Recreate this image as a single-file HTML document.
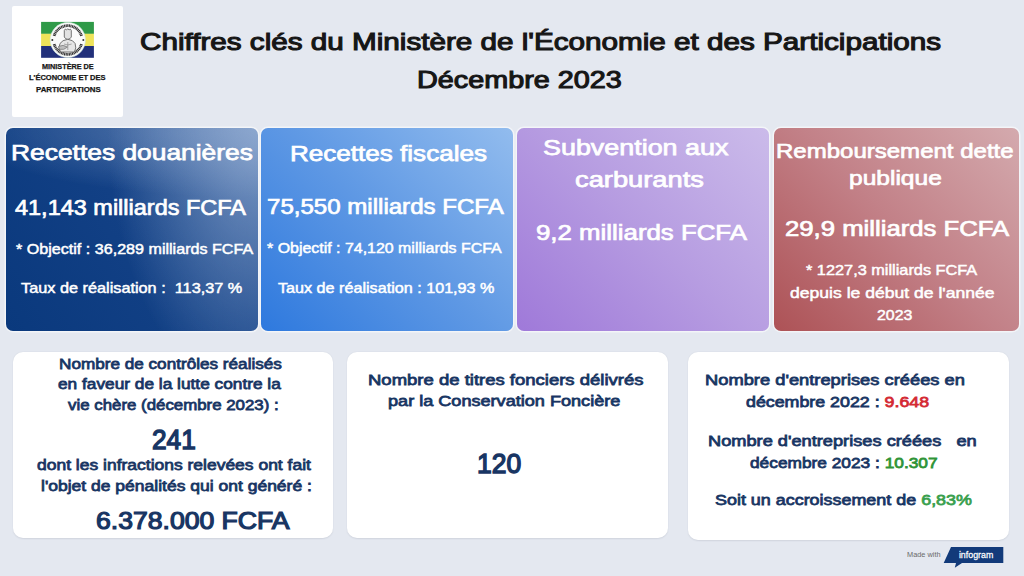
<!DOCTYPE html>
<html><head><meta charset="utf-8">
<style>
*{margin:0;padding:0;box-sizing:border-box}
html,body{width:1024px;height:576px;overflow:hidden;background:#e4e8f0;font-family:"Liberation Sans",sans-serif}
.logo{position:absolute;left:12px;top:6px;width:111px;height:111px;background:#fff;border-radius:2px}
.card{position:absolute;top:127.5px;height:203px;border-radius:7px;overflow:hidden;box-shadow:0 0 0 1.5px rgba(255,255,255,.55)}
.c1{left:5.5px;width:252.5px;background:radial-gradient(ellipse 150px 270px at 100% 0%, rgba(150,175,212,.8) 0%, rgba(150,175,212,0) 100%),radial-gradient(ellipse 300px 70px at 100% 0%, rgba(150,175,212,.6) 0%, rgba(150,175,212,0) 100%),linear-gradient(60deg,#0a397d 0%,#124085 50%,#1d4a8f 100%)}
.c2{left:261px;width:252px;background:linear-gradient(45deg,#2e79de 0%,#5e98e4 50%,#92bcee 100%)}
.c3{left:516.5px;width:252px;background:linear-gradient(45deg,#9f79d9 0%,#b69ce1 50%,#cbbbea 100%)}
.c4{left:773.5px;width:245px;background:linear-gradient(45deg,#ad5256 0%,#c28087 50%,#d4aaae 100%)}
.wc{position:absolute;top:351.6px;height:186.6px;background:#fff;border-radius:10px;box-shadow:0 0.5px 1.5px rgba(40,50,70,.10)}
.w1{left:12.5px;width:320px}
.w2{left:346.5px;width:321px}
.w3{left:688px;width:320.8px;top:351.5px;height:188px}
.tx{position:absolute;white-space:nowrap;font-weight:normal;transform-origin:0 0}
.lg{font-weight:bold;-webkit-text-stroke-width:0.25px}
</style></head><body>
<div class="logo">
  <svg width="111" height="111" style="position:absolute;left:0;top:0">
    <rect x="29.1" y="15.9" width="52.8" height="12" fill="#2f9a48"/>
    <rect x="29.1" y="27.8" width="52.8" height="12.2" fill="#eee35a"/>
    <rect x="29.1" y="40" width="52.8" height="11.8" fill="#22307a"/>
    <circle cx="55.8" cy="34.0" r="17.6" fill="#fafafa" stroke="#cfe8dc" stroke-width="0.6"/>
    <path d="M42.12 29.82 A14.3 14.3 0 0 1 69.48 29.82" fill="none" stroke="#2e2e2e" stroke-width="2.8" stroke-dasharray="1.1 0.5"/>
    <path d="M42.12 38.18 A14.3 14.3 0 0 0 69.48 38.18" fill="none" stroke="#2e2e2e" stroke-width="2.8" stroke-dasharray="1.1 0.5"/>
    <circle cx="40.3" cy="34" r="1" fill="#333"/>
    <circle cx="71.3" cy="34" r="1" fill="#333"/>
    <path d="M52.3 24.5 l1 -1.5 l1.2 1 l1.3 -1.3 l1.3 1.3 l1.2 -1 l1 1.5 v6.5 q-1 2.2 -3.5 2.4 q-2.5 -0.2 -3.5 -2.4 z" fill="#e2e2e2" stroke="#555" stroke-width="0.8"/>
    <path d="M48.5 46 q-2.8 -4.5 -0.5 -8.5 q2.2 -3.5 7.8 -4.2 q5.6 0.7 7.3 4.2 q1.8 4.5 -0.8 8.5 z" fill="#e6e6e6" stroke="#555" stroke-width="0.8"/>
    <path d="M46.5 40.5 q4.5 -2.5 9 0.5 q-3.5 3.5 -8 2.3 z" fill="#bdbdbd" stroke="#666" stroke-width="0.6"/>
    <path d="M55.8 36 v8 M52 38 q3.8 2 7.6 0" fill="none" stroke="#777" stroke-width="0.6"/>
  </svg>
</div>
<div class="card c1"></div>
<div class="card c2"></div>
<div class="card c3"></div>
<div class="card c4"></div>
<div class="wc w1"></div>
<div class="wc w2"></div>
<div class="wc w3"></div>
<div id="L_T1" class="tx" style="left:139.84px;top:30.09px;font-size:24.00px;line-height:24.00px;color:#161616;-webkit-text-stroke-width:1.08px;transform:scaleX(1.2353)">Chiffres clés du Ministère de l'Économie et des Participations</div>
<div id="L_T2" class="tx" style="left:417.34px;top:68.27px;font-size:24.00px;line-height:24.00px;color:#161616;-webkit-text-stroke-width:1.08px;transform:scaleX(1.1989)">Décembre 2023</div>
<div id="L_c1a" class="tx" style="left:11.23px;top:141.77px;font-size:22.60px;line-height:22.60px;color:#ffffff;-webkit-text-stroke-width:0.75px;transform:scaleX(1.1674)">Recettes douanières</div>
<div id="L_c1b" class="tx" style="left:14.51px;top:196.68px;font-size:21.20px;line-height:21.20px;color:#ffffff;-webkit-text-stroke-width:0.70px;transform:scaleX(1.1081)">41,143 milliards FCFA</div>
<div id="L_c1c" class="tx" style="left:16.02px;top:241.97px;font-size:14.80px;line-height:14.80px;color:#ffffff;-webkit-text-stroke-width:0.49px;transform:scaleX(1.0882)">* Objectif : 36,289 milliards FCFA</div>
<div id="L_c1d" class="tx" style="left:21.05px;top:281.15px;font-size:14.80px;line-height:14.80px;color:#ffffff;-webkit-text-stroke-width:0.49px;transform:scaleX(1.0996)">Taux de réalisation :&nbsp; 113,37 %</div>
<div id="L_c2a" class="tx" style="left:289.93px;top:143.29px;font-size:22.60px;line-height:22.60px;color:#ffffff;-webkit-text-stroke-width:0.75px;transform:scaleX(1.1533)">Recettes fiscales</div>
<div id="L_c2b" class="tx" style="left:266.92px;top:196.07px;font-size:21.20px;line-height:21.20px;color:#ffffff;-webkit-text-stroke-width:0.70px;transform:scaleX(1.1359)">75,550 milliards FCFA</div>
<div id="L_c2c" class="tx" style="left:267.02px;top:241.27px;font-size:14.80px;line-height:14.80px;color:#ffffff;-webkit-text-stroke-width:0.49px;transform:scaleX(1.0769)">* Objectif : 74,120 milliards FCFA</div>
<div id="L_c2d" class="tx" style="left:277.52px;top:281.31px;font-size:14.80px;line-height:14.80px;color:#ffffff;-webkit-text-stroke-width:0.49px;transform:scaleX(1.0917)">Taux de réalisation : 101,93 %</div>
<div id="L_c3a" class="tx" style="left:542.81px;top:136.82px;font-size:22.60px;line-height:22.60px;color:#ffffff;-webkit-text-stroke-width:0.75px;transform:scaleX(1.1903)">Subvention aux</div>
<div id="L_c3b" class="tx" style="left:574.88px;top:168.88px;font-size:22.60px;line-height:22.60px;color:#ffffff;-webkit-text-stroke-width:0.75px;transform:scaleX(1.2076)">carburants</div>
<div id="L_c3c" class="tx" style="left:536.39px;top:222.09px;font-size:21.20px;line-height:21.20px;color:#ffffff;-webkit-text-stroke-width:0.70px;transform:scaleX(1.2187)">9,2 milliards FCFA</div>
<div id="L_c4a" class="tx" style="left:775.60px;top:140.79px;font-size:20.20px;line-height:20.20px;color:#ffffff;-webkit-text-stroke-width:0.67px;transform:scaleX(1.1895)">Remboursement dette</div>
<div id="L_c4b" class="tx" style="left:848.81px;top:167.65px;font-size:20.20px;line-height:20.20px;color:#ffffff;-webkit-text-stroke-width:0.67px;transform:scaleX(1.2155)">publique</div>
<div id="L_c4c" class="tx" style="left:784.53px;top:218.31px;font-size:21.20px;line-height:21.20px;color:#ffffff;-webkit-text-stroke-width:0.70px;transform:scaleX(1.2130)">29,9 milliards FCFA</div>
<div id="L_c4d" class="tx" style="left:806.48px;top:262.03px;font-size:15.00px;line-height:15.00px;color:#ffffff;-webkit-text-stroke-width:0.49px;transform:scaleX(1.0867)">* 1227,3 milliards FCFA</div>
<div id="L_c4e" class="tx" style="left:790.00px;top:284.55px;font-size:15.00px;line-height:15.00px;color:#ffffff;-webkit-text-stroke-width:0.49px;transform:scaleX(1.1710)">depuis le début de l'année</div>
<div id="L_c4f" class="tx" style="left:877.02px;top:306.81px;font-size:15.00px;line-height:15.00px;color:#ffffff;-webkit-text-stroke-width:0.49px;transform:scaleX(1.0597)">2023</div>
<div id="L_wA1" class="tx" style="left:59.38px;top:355.96px;font-size:15.20px;line-height:15.20px;color:#183563;-webkit-text-stroke-width:0.76px;transform:scaleX(1.1286)">Nombre de contrôles réalisés</div>
<div id="L_wA2" class="tx" style="left:58.25px;top:376.26px;font-size:15.20px;line-height:15.20px;color:#183563;-webkit-text-stroke-width:0.76px;transform:scaleX(1.1375)">en faveur de la lutte contre la</div>
<div id="L_wA3" class="tx" style="left:68.13px;top:397.44px;font-size:15.20px;line-height:15.20px;color:#183563;-webkit-text-stroke-width:0.76px;transform:scaleX(1.1092)">vie chère (décembre 2023) :</div>
<div id="L_wA4" class="tx" style="left:151.51px;top:424.95px;font-size:28.20px;line-height:28.20px;color:#183563;-webkit-text-stroke-width:1.41px;transform:scaleX(0.9315)">241</div>
<div id="L_wA5" class="tx" style="left:36.92px;top:457.40px;font-size:15.20px;line-height:15.20px;color:#183563;-webkit-text-stroke-width:0.76px;transform:scaleX(1.1504)">dont les infractions relevées ont fait</div>
<div id="L_wA6" class="tx" style="left:41.14px;top:478.00px;font-size:15.20px;line-height:15.20px;color:#183563;-webkit-text-stroke-width:0.76px;transform:scaleX(1.1522)">l'objet de pénalités qui ont généré :</div>
<div id="L_wA7" class="tx" style="left:96.06px;top:509.08px;font-size:23.90px;line-height:23.90px;color:#183563;-webkit-text-stroke-width:1.20px;transform:scaleX(1.1122)">6.378.000 FCFA</div>
<div id="L_wB1" class="tx" style="left:367.91px;top:371.99px;font-size:15.40px;line-height:15.40px;color:#183563;-webkit-text-stroke-width:0.77px;transform:scaleX(1.2018)">Nombre de titres fonciers délivrés</div>
<div id="L_wB2" class="tx" style="left:388.19px;top:393.49px;font-size:15.40px;line-height:15.40px;color:#183563;-webkit-text-stroke-width:0.77px;transform:scaleX(1.1756)">par la Conservation Foncière</div>
<div id="L_wB3" class="tx" style="left:477.06px;top:449.17px;font-size:28.20px;line-height:28.20px;color:#183563;-webkit-text-stroke-width:1.41px;transform:scaleX(0.9396)">120</div>
<div id="L_wC1" class="tx" style="left:705.04px;top:372.45px;font-size:15.40px;line-height:15.40px;color:#183563;-webkit-text-stroke-width:0.77px;transform:scaleX(1.1896)">Nombre d'entreprises créées en</div>
<div id="L_wC2" class="tx" style="left:745.93px;top:394.01px;font-size:15.40px;line-height:15.40px;color:#183563;-webkit-text-stroke-width:0.77px;transform:scaleX(1.1569)">décembre 2022 : <span style="color:#d42a33">9.648</span></div>
<div id="L_wC3" class="tx" style="left:708.04px;top:432.95px;font-size:15.40px;line-height:15.40px;color:#183563;-webkit-text-stroke-width:0.77px;transform:scaleX(1.1836)">Nombre d'entreprises créées &nbsp; en</div>
<div id="L_wC4" class="tx" style="left:750.29px;top:454.55px;font-size:15.40px;line-height:15.40px;color:#183563;-webkit-text-stroke-width:0.77px;transform:scaleX(1.1241)">décembre 2023 : <span style="color:#2f9437">10.307</span></div>
<div id="L_wC5" class="tx" style="left:715.16px;top:491.79px;font-size:15.40px;line-height:15.40px;color:#183563;-webkit-text-stroke-width:0.77px;transform:scaleX(1.1642)">Soit un accroissement de <span style="color:#3aa04e">6,83%</span></div>
<div id="L_lg1" class="tx lg" style="left:41.50px;top:62.85px;font-size:7.30px;line-height:7.30px;color:#161616;transform:scaleX(0.9967)">MINISTÈRE DE</div>
<div id="L_lg2" class="tx lg" style="left:28.99px;top:74.09px;font-size:7.30px;line-height:7.30px;color:#161616;transform:scaleX(1.0301)">L'ÉCONOMIE ET DES</div>
<div id="L_lg3" class="tx lg" style="left:35.53px;top:85.85px;font-size:7.30px;line-height:7.30px;color:#161616;transform:scaleX(1.0793)">PARTICIPATIONS</div>
<div style="position:absolute;left:907px;top:551px;font-size:8px;line-height:8px;color:#6a6a6a;white-space:nowrap;transform:scaleX(0.92);transform-origin:0 0">Made with</div>
<svg width="70" height="26" style="position:absolute;left:940px;top:545px">
  <path d="M11 2 H63.3 V18 H22 L14.8 22.7 L16 18 H3.7 Z" fill="#123a7a"/>
  <text x="36.1" y="12.9" fill="#fff" font-family="Liberation Sans" font-size="9.6" stroke="#fff" stroke-width="0.25" text-anchor="middle" transform="translate(36.1 0) scale(0.92 1) translate(-36.1 0)">infogram</text>
</svg>
</body></html>
